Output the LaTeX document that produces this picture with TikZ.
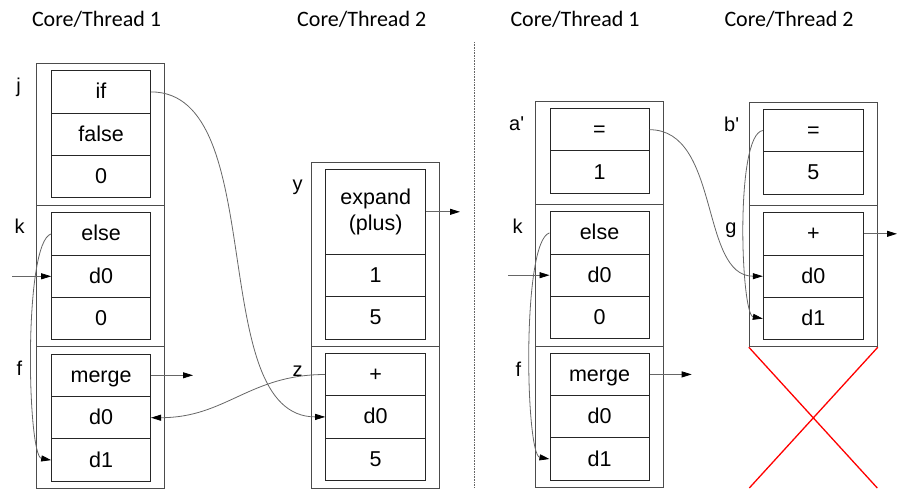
\documentclass[tikz,border=0pt]{standalone}
\usepackage{fontspec}
\setmainfont{Liberation Sans}
\newfontfamily\hdrfont{Carlito}
\usetikzlibrary{arrows.meta}
\begin{document}
\begin{tikzpicture}[x=1pt,y=-1pt,
  frame/.style={draw=black!70,line width=1pt,minimum width=128pt,inner sep=0pt},
  cellbase/.style={draw=black!85,line width=1pt,minimum width=99pt,minimum height=42.4pt,inner sep=0pt,font=\fontsize{21.5}{26.5}\selectfont},
  cell/.style={cellbase,text height=16pt,text depth=2pt},
  lbl/.style={anchor=base,inner sep=0pt,font=\fontsize{20}{24}\selectfont},
  hdr/.style={anchor=base,inner sep=0pt,font=\hdrfont\fontsize{22}{26}\selectfont},
  conn/.style={draw=black!60,line width=0.8pt,-{Triangle[length=10pt,width=6pt,color=black]}},
]
\useasboundingbox (0,0) rectangle (897,490);

% headers
\node[hdr] (hA) at (96.5,26.7) {Core/Thread 1};
\node[hdr] (hB) at (361.7,26.7) {Core/Thread 2};
\node[hdr] (hC) at (575,26.7) {Core/Thread 1};
\node[hdr] (hD) at (789,26.7) {Core/Thread 2};

% divider
\coordinate (dv1) at (474.3,42);
\coordinate (dv2) at (474.3,488);
\draw[black!60,line width=0.8pt,dash pattern=on 1pt off 0.6pt] (dv1) -- (dv2);

% frames
\node[frame,minimum height=142pt] (A1) at (100,134) {};
\node[frame,minimum height=141.7pt] (A2) at (100,275.85) {};
\node[frame,minimum height=141.6pt] (A3) at (100,417.5) {};
\node[frame,minimum width=127.6pt,minimum height=184pt] (B1) at (375.5,254.7) {};
\node[frame,minimum width=127.6pt,minimum height=141.6pt] (B2) at (375.5,417.5) {};
\node[frame,minimum width=127.3pt,minimum height=102.3pt] (C1) at (599.35,152.85) {};
\node[frame,minimum width=127.3pt,minimum height=142pt] (C2) at (599.35,275) {};
\node[frame,minimum width=127.3pt,minimum height=141.3pt] (C3) at (599.35,416.65) {};
\node[frame,minimum height=103pt] (D1) at (813.3,154.2) {};
\node[frame,minimum height=141pt] (D2) at (813.3,276.2) {};

% cells column A
\node[cell,minimum width=98.8pt] (aif) at (101.1,91.9) {if};
\node[cell,minimum width=98.8pt] (afalse) at (101.1,134.3) {false};
\node[cell,minimum width=98.8pt] (a0) at (101.1,176.7) {0};
\node[cell,minimum width=98.8pt] (kelse) at (101.1,233.9) {else};
\node[cell,minimum width=98.8pt] (kd0) at (101.1,276.3) {d0};
\node[cell,minimum width=98.8pt] (k0) at (101.1,318.7) {0};
\node[cell,minimum width=98.8pt] (fmerge) at (101.1,375.3) {merge};
\node[cell,minimum width=98.8pt] (fd0) at (101.1,417.7) {d0};
\node[cell,minimum width=98.8pt] (fd1) at (101.1,460.1) {d1};

% cells column B
\node[cellbase,minimum width=100pt,minimum height=85pt,align=center] (expand) at (375.7,211.8) {expand\\(plus)};
\node[cell,minimum width=100pt] (b1) at (375.7,275.5) {1};
\node[cell,minimum width=100pt] (b5) at (375.7,317.9) {5};
\node[cell,minimum width=100pt] (zplus) at (375.7,374.5) {+};
\node[cell,minimum width=100pt] (zd0) at (375.7,416.9) {d0};
\node[cell,minimum width=100pt] (z5) at (375.7,459.3) {5};

% cells column C
\node[cell] (ceq) at (599.5,129.7) {=};
\node[cell] (c1) at (599.5,172.1) {1};
\node[cell,minimum height=42.3pt] (celse) at (599.5,232.9) {else};
\node[cell,minimum height=42.3pt] (cd0) at (599.5,275.2) {d0};
\node[cell,minimum height=42.3pt] (c0) at (599.5,317.5) {0};
\node[cell,minimum height=42.3pt] (cmerge) at (599.5,374.4) {merge};
\node[cell,minimum height=42.3pt] (cmd0) at (599.5,416.7) {d0};
\node[cell,minimum height=42.3pt] (cmd1) at (599.5,459) {d1};

% cells column D
\node[cell,minimum width=100pt] (deq) at (813.3,130.5) {=};
\node[cell,minimum width=100pt] (d5) at (813.3,172.9) {5};
\node[cell,minimum width=100pt] (dplus) at (813.3,233.8) {+};
\node[cell,minimum width=100pt] (dd0) at (813.3,276.2) {d0};
\node[cell,minimum width=100pt] (dd1) at (813.3,318.6) {d1};

% labels
\node[lbl] (lj) at (18.5,92) {j};
\node[lbl] (lk) at (19.7,233.3) {k};
\node[lbl] (lf) at (19.3,375) {f};
\node[lbl] (ly) at (297.5,190.5) {y};
\node[lbl] (lz) at (297.5,376) {z};
\node[lbl] (la) at (516.7,130.7) {a\textquotesingle};
\node[lbl] (lk2) at (517.5,233.3) {k};
\node[lbl] (lf2) at (518.3,376) {f};
\node[lbl] (lb) at (731.7,131.7) {b\textquotesingle};
\node[lbl] (lg) at (731,233.7) {g};

% connectors left
\draw[conn] (aif.east) .. controls +(120,0) and +(-121,0) .. (zd0.west);
\draw[conn] (zplus.west) .. controls +(-76,0) and +(75,0) .. (fd0.east);
\draw[conn] (kelse.west) .. controls +(-28,8) and +(-24,-4) .. (fd1.west);
\coordinate (inA) at (12,276.3);
\draw[conn] (inA) -- (kd0.west);
\coordinate (outA) at (193,375.3);
\draw[conn] (fmerge.east) -- (outA);
\coordinate (outB) at (460,211.8);
\draw[conn] (expand.east) -- (outB);

% connectors right
\draw[conn] (ceq.east) .. controls +(71,0) and +(-63,0) .. (dd0.west);
\draw[conn] (deq.west) .. controls +(-28,4) and +(-22,-4) .. (dd1.west);
\draw[conn] (celse.west) .. controls +(-28,8) and +(-24,-4) .. (cmd1.west);
\coordinate (inC) at (508,275.2);
\draw[conn] (inC) -- (cd0.west);
\coordinate (outC) at (691.7,374.4);
\draw[conn] (cmerge.east) -- (outC);
\coordinate (outD) at (897,233.8);
\draw[conn] (dplus.east) -- (outD);

% red cross
\coordinate (xbr) at (877.3,488);
\coordinate (xbl) at (749.3,488);
\draw[red,line width=1.3pt] (D2.south west) -- (xbr) (D2.south east) -- (xbl);
\end{tikzpicture}
\end{document}
